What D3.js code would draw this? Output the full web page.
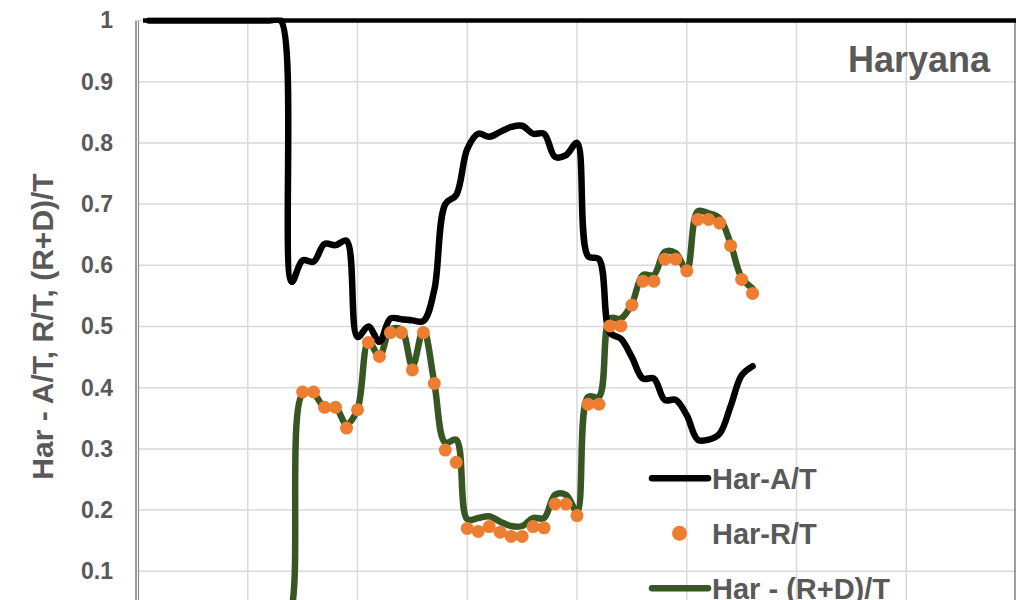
<!DOCTYPE html>
<html>
<head>
<meta charset="utf-8">
<script src="https://cdn.jsdelivr.net/npm/d3@7"></script>
<style>
  html, body { margin: 0; padding: 0; background: #fff; }
  svg { display: block; }
  text { font-family: "Liberation Sans", Arial, sans-serif; font-weight: bold; fill: #595959; }
</style>
</head>
<body>
<svg id="chart" width="1016" height="600"></svg>
<script>
// ---- data (x = time index, y = ratios) ----
const atDays = d3.range(1, 57);
const atValues = [
  1, 1, 1, 1, 1, 1, 1, 1, 1, 1, 1, 1, 1,            // 1-13
  0.573, 0.608, 0.606, 0.635, 0.633, 0.640,          // 14-19
  0.483, 0.500, 0.475, 0.513, 0.512, 0.510, 0.509,   // 20-26
  0.560, 0.700, 0.715, 0.790, 0.815, 0.810, 0.818,   // 27-33
  0.826, 0.828, 0.815, 0.815, 0.777, 0.780, 0.800,   // 34-40
  0.615, 0.610, 0.490, 0.480, 0.450, 0.415, 0.415,   // 41-47
  0.380, 0.380, 0.355, 0.315, 0.315, 0.325, 0.370,   // 48-54
  0.420, 0.435                                       // 55-56
];

const rtDays = d3.range(15, 57);
const rtValues = [
  0.393, 0.393, 0.368, 0.368, 0.334, 0.364, 0.474, 0.451, 0.490, 0.490,
  0.429, 0.490, 0.407, 0.298, 0.278, 0.170, 0.165, 0.173, 0.164, 0.157,
  0.157, 0.173, 0.171, 0.210, 0.210, 0.191, 0.373, 0.373, 0.501, 0.501,
  0.535, 0.574, 0.574, 0.610, 0.610, 0.591, 0.675, 0.675, 0.669, 0.632,
  0.577, 0.554
];

const rdDays = d3.range(0, 57);
const rdValues = [
  0, 0, 0, 0, 0, 0, 0, 0, 0, 0, 0, 0, 0, 0, 0.04,    // 0-14
  0.390, 0.390, 0.368, 0.368, 0.340, 0.365, 0.475, 0.452, 0.495, 0.495,
  0.435, 0.495, 0.408, 0.310, 0.315, 0.185, 0.187, 0.190, 0.181, 0.174,
  0.174, 0.187, 0.187, 0.225, 0.225, 0.198, 0.385, 0.385, 0.513, 0.513,
  0.537, 0.584, 0.584, 0.622, 0.620, 0.592, 0.688, 0.685, 0.677, 0.635,
  0.580, 0.562
];

const yTicks = [0, 0.1, 0.2, 0.3, 0.4, 0.5, 0.6, 0.7, 0.8, 0.9, 1];
const xTicks = [0, 10, 20, 30, 40, 50, 60, 70, 80];
const yTitle = "Har - A/T, R/T, (R+D)/T";
const chartTitle = "Haryana";
const legendNames = ["Har-A/T", "Har-R/T", "Har - (R+D)/T"];

// ---- layout ----
const svg = d3.select("#chart");
const x = d3.scaleLinear().domain([0, 80]).range([138, 1016]);
const y = d3.scaleLinear().domain([0, 1]).range([632.5, 20.5]);
const colBlack = "#000000", colOrange = "#ED7D31", colGreen = "#375623";

// gridlines
svg.append("g").selectAll("line.h").data(yTicks.filter(d => d > 0)).join("line")
  .attr("x1", x(0)).attr("x2", x(80))
  .attr("y1", d => y(d)).attr("y2", d => y(d))
  .attr("stroke", "#d9d9d9").attr("stroke-width", 1.5);
svg.append("g").selectAll("line.v").data(xTicks.filter(d => d > 0 && d < 80)).join("line")
  .attr("x1", d => x(d)).attr("x2", d => x(d))
  .attr("y1", y(1)).attr("y2", y(0))
  .attr("stroke", "#d9d9d9").attr("stroke-width", 1.5);

// right border
svg.append("line").attr("x1", 1015).attr("x2", 1015).attr("y1", y(1)).attr("y2", 600)
  .attr("stroke", "#7f7f7f").attr("stroke-width", 1.5);

// left axis (double line look)
svg.append("line").attr("x1", x(0) - 2).attr("x2", x(0) - 2).attr("y1", y(1)).attr("y2", 600)
  .attr("stroke", "#595959").attr("stroke-width", 1.2);
svg.append("line").attr("x1", x(0) + 0.5).attr("x2", x(0) + 0.5).attr("y1", y(1)).attr("y2", 600)
  .attr("stroke", "#8c8c8c").attr("stroke-width", 1.2);

// y axis labels
const yAxis = d3.axisLeft(y).tickValues(yTicks.filter(d => d > 0)).tickSize(0).tickPadding(0)
  .tickFormat(d => d === 1 ? "1" : d3.format(".1f")(d));
const gy = svg.append("g").attr("transform", `translate(113,0)`).call(yAxis);
gy.select(".domain").remove();
gy.selectAll("text").attr("font-size", 23).attr("fill", "#595959")
  .style("font-family", '"Liberation Sans", Arial, sans-serif').style("font-weight", "bold");

// y title
svg.append("text").attr("transform", `translate(53,${(y(0) + y(1)) / 2}) rotate(-90)`)
  .attr("text-anchor", "middle").attr("font-size", 30).text(yTitle);

// clip
svg.append("clipPath").attr("id", "plotclip").append("rect")
  .attr("x", x(0)).attr("y", y(1) - 3).attr("width", x(80) - x(0)).attr("height", y(0) - y(1) + 3);

const plot = svg.append("g").attr("clip-path", "url(#plotclip)");
const curve = d3.curveCatmullRom.alpha(0.5);

const rdPts = rdDays.map((d, i) => [d, rdValues[i]]);
const atPts = atDays.map((d, i) => [d, atValues[i]]);
const rtPts = rtDays.map((d, i) => [d, rtValues[i]]);

const lineGen = d3.line().x(d => x(d[0])).y(d => y(d[1])).curve(curve);

plot.append("path").datum(rdPts).attr("d", lineGen)
  .attr("fill", "none").attr("stroke", colGreen).attr("stroke-width", 6.5)
  .attr("stroke-linejoin", "round").attr("stroke-linecap", "round");

plot.append("path").datum(atPts).attr("d", lineGen)
  .attr("fill", "none").attr("stroke", colBlack).attr("stroke-width", 6.5)
  .attr("stroke-linejoin", "round").attr("stroke-linecap", "round");

plot.append("g").selectAll("circle").data(rtPts).join("circle")
  .attr("cx", d => x(d[0])).attr("cy", d => y(d[1])).attr("r", 6.5)
  .attr("fill", colOrange);

// top border line
svg.append("line").attr("x1", 143).attr("x2", 1016).attr("y1", y(1)).attr("y2", y(1))
  .attr("stroke", "#000").attr("stroke-width", 4.5);

// title
svg.append("text").attr("x", 990).attr("y", 71.5).attr("text-anchor", "end")
  .attr("font-size", 36).text(chartTitle);

// legend
const leg = svg.append("g");
const legY = [478.3, 533.3, 588.3];
leg.append("line").attr("x1", 652).attr("x2", 708).attr("y1", legY[0]).attr("y2", legY[0])
  .attr("stroke", colBlack).attr("stroke-width", 6.5).attr("stroke-linecap", "round");
leg.append("circle").attr("cx", 679.5).attr("cy", legY[1]).attr("r", 7.5).attr("fill", colOrange);
leg.append("line").attr("x1", 652).attr("x2", 708).attr("y1", legY[2]).attr("y2", legY[2])
  .attr("stroke", colGreen).attr("stroke-width", 6.5).attr("stroke-linecap", "round");
leg.selectAll("text").data(legendNames).join("text")
  .attr("x", 712).attr("y", (d, i) => legY[i] + 10.3)
  .attr("font-size", 29).text(d => d);
</script>
</body>
</html>
